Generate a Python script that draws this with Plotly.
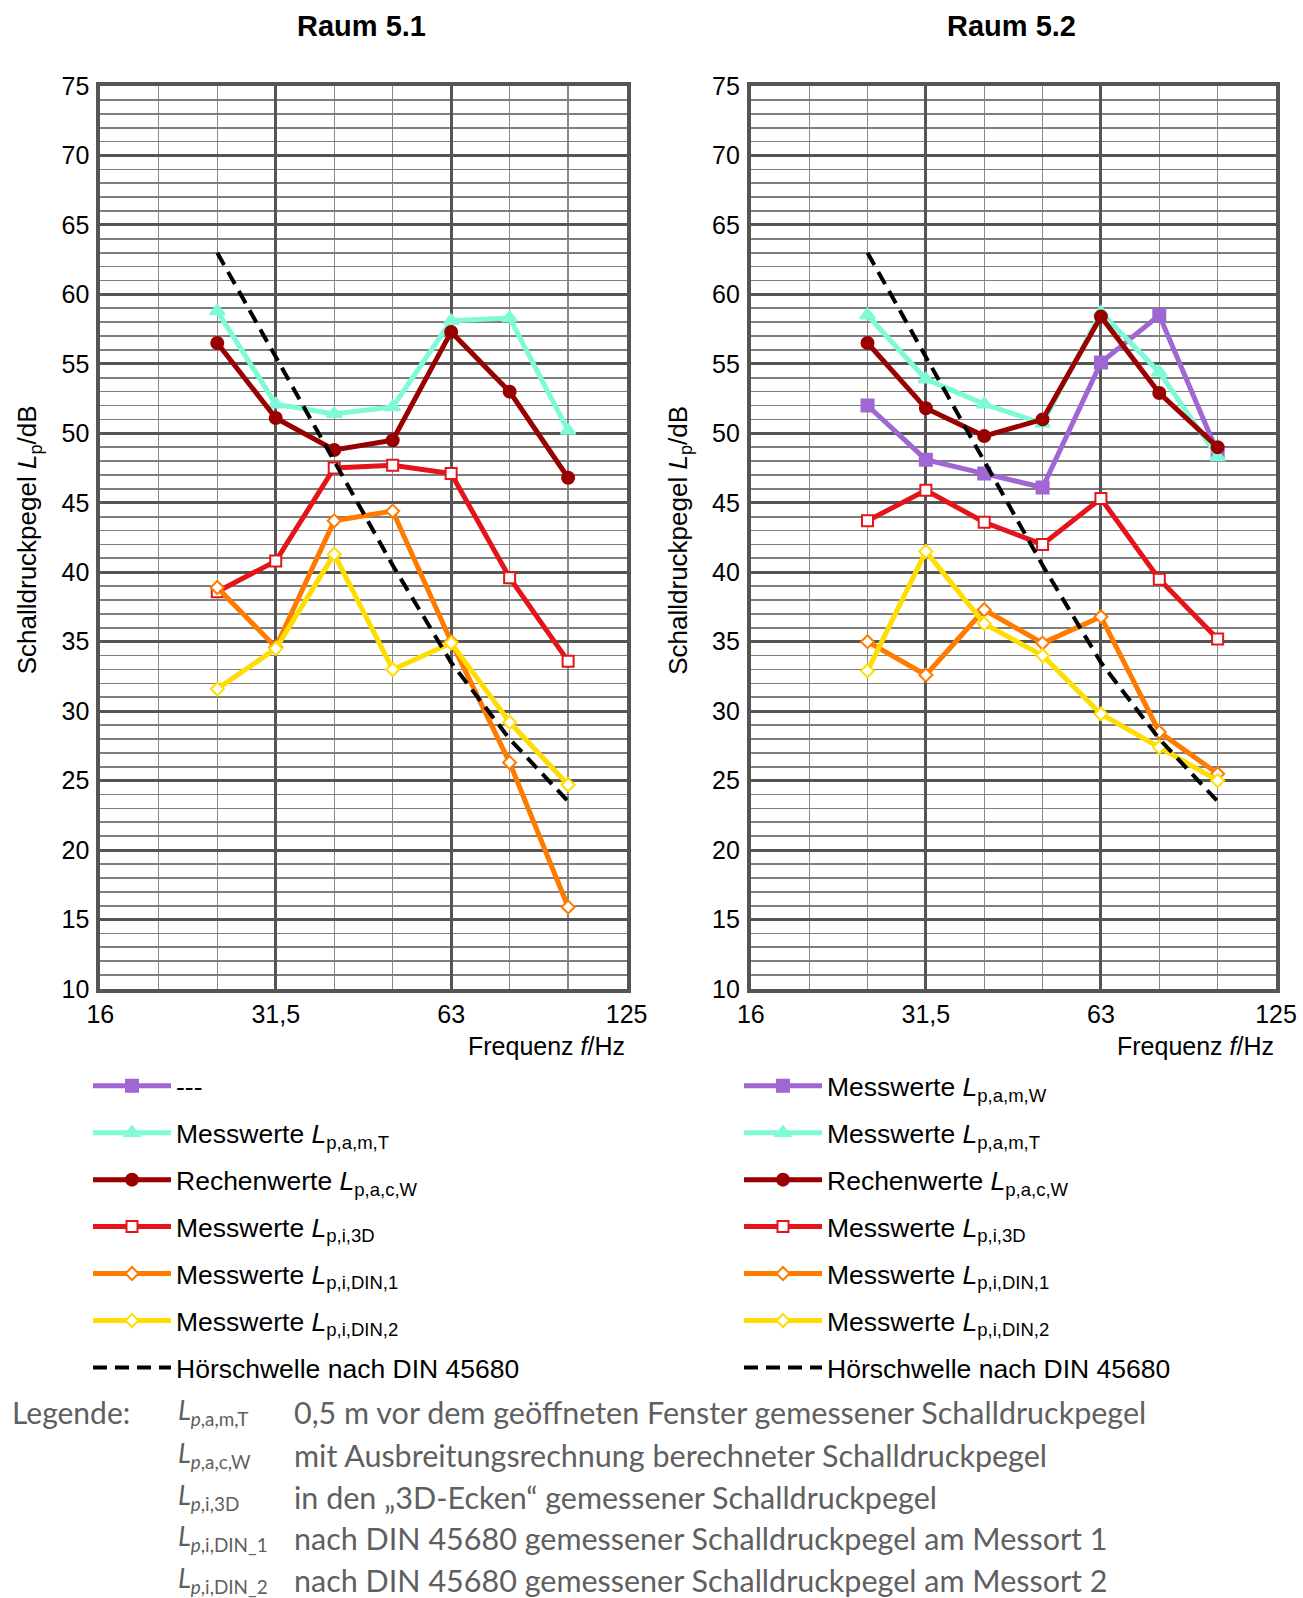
import math
import plotly.graph_objects as go

# ---------------- data ----------------
freqs = [25, 31.5, 40, 50, 63, 80, 100]          # nominal third-octave bands (Hz)
band_no = [14, 15, 16, 17, 18, 19, 20]            # band numbers (10*log10 f)

# Raum 5.1
r1_amT = [58.8, 52.1, 51.4, 51.9, 58.1, 58.3, 50.2]
r1_acW = [56.5, 51.1, 48.8, 49.5, 57.3, 53.0, 46.8]
r1_i3D = [38.6, 40.8, 47.5, 47.7, 47.1, 39.6, 33.6]
r1_din1 = [38.9, 34.6, 43.7, 44.4, 35.0, 26.3, 15.9]
r1_din2 = [31.6, 34.5, 41.3, 33.0, 34.9, 29.2, 24.7]

# Raum 5.2
r2_amW = [52.0, 48.1, 47.1, 46.1, 55.1, 58.5, 48.6]
r2_amT = [58.5, 53.9, 52.1, 50.7, 58.7, 54.4, 48.3]
r2_acW = [56.5, 51.8, 49.8, 51.0, 58.4, 52.9, 49.0]
r2_i3D = [43.7, 45.9, 43.6, 42.0, 45.3, 39.5, 35.2]
r2_din1 = [35.0, 32.6, 37.3, 34.9, 36.8, 28.5, 25.5]
r2_din2 = [32.9, 41.5, 36.3, 34.0, 29.8, 27.4, 25.0]

# Hörschwelle nach DIN 45680
threshold = [63.0, 55.5, 48.0, 40.5, 33.5, 28.0, 23.5]

x_tick_bands = [12, 15, 18, 21]
x_tick_text = ["16", "31,5", "63", "125"]
x_minor_bands = [13, 14, 16, 17, 19, 20]

titles = ["Raum 5.1", "Raum 5.2"]

# ---------------- helpers ----------------
W, H = 1303, 1598
x_pos = [10 ** (b / 10) for b in band_no]   # exact band centre positions on log axis

def px(x):
    return x / W

def py(y):
    return 1 - y / H

FONT = "Liberation Sans, Arial, sans-serif"

C_PURPLE = "#A066D3"
C_TURQ = "#7FFAD6"
C_DRED = "#990000"
C_RED = "#E5141B"
C_ORANGE = "#FF7B00"
C_YELLOW = "#FFDD00"

fig = go.Figure()

def add(xa, ya, y, name, color, symbol, size, fill, legend, lw=5, dash=None, mode="lines+markers", lwm=2):
    fig.add_trace(go.Scatter(
        x=x_pos if y is not None else [None], y=y if y is not None else [None],
        xaxis=xa, yaxis=ya, name=name, mode=mode, legend=legend,
        line=dict(color=color, width=lw, dash=dash),
        marker=dict(symbol=symbol, size=size, color=fill,
                    line=dict(color=color, width=lwm)),
        legendgroup=name + legend, showlegend=True,
    ))

def lbl(prefix, sub):
    return f"{prefix} <i>L</i><sub>{sub}</sub>"

DASH = "14px,8px"

# left plot
add("x", "y", None, "---", C_PURPLE, "square", 12, C_PURPLE, "legend")
add("x", "y", r1_amT, lbl("Messwerte", "p,a,m,T"), C_TURQ, "triangle-up", 13, C_TURQ, "legend")
add("x", "y", r1_acW, lbl("Rechenwerte", "p,a,c,W"), C_DRED, "circle", 12, C_DRED, "legend")
add("x", "y", r1_i3D, lbl("Messwerte", "p,i,3D"), C_RED, "square", 11, "white", "legend")
add("x", "y", r1_din1, lbl("Messwerte", "p,i,DIN,1"), C_ORANGE, "diamond", 10, "white", "legend")
add("x", "y", r1_din2, lbl("Messwerte", "p,i,DIN,2"), C_YELLOW, "diamond", 10, "white", "legend")
add("x", "y", threshold, "Hörschwelle nach DIN 45680", "black", "circle", 1, "black", "legend",
    lw=4, dash=DASH, mode="lines")

# right plot
add("x2", "y2", r2_amW, lbl("Messwerte", "p,a,m,W"), C_PURPLE, "square", 12, C_PURPLE, "legend2")
add("x2", "y2", r2_amT, lbl("Messwerte", "p,a,m,T"), C_TURQ, "triangle-up", 13, C_TURQ, "legend2")
add("x2", "y2", r2_acW, lbl("Rechenwerte", "p,a,c,W"), C_DRED, "circle", 12, C_DRED, "legend2")
add("x2", "y2", r2_i3D, lbl("Messwerte", "p,i,3D"), C_RED, "square", 11, "white", "legend2")
add("x2", "y2", r2_din1, lbl("Messwerte", "p,i,DIN,1"), C_ORANGE, "diamond", 10, "white", "legend2")
add("x2", "y2", r2_din2, lbl("Messwerte", "p,i,DIN,2"), C_YELLOW, "diamond", 10, "white", "legend2")
add("x2", "y2", threshold, "Hörschwelle nach DIN 45680", "black", "circle", 1, "black", "legend2",
    lw=4, dash=DASH, mode="lines")

# ---------------- axes ----------------
GRID_MAJ = "#555555"
GRID_MIN = "#7e7e7e"
GRID_MINX = "#8a8a8a"

plot_top, plot_bot = 86.0, 989.0
left_dom = [px(100.3), px(626.6)]
right_dom = [px(750.8), px(1276.0)]
ydom = [py(plot_bot), py(plot_top)]

xcommon = dict(
    type="log", range=[1.2 - 1e-5, 2.1 + 1e-5], automargin=False,
    tickmode="array", tickvals=[10 ** (b / 10) for b in x_tick_bands], ticktext=x_tick_text,
    showgrid=True, gridcolor=GRID_MAJ, gridwidth=3,
    minor=dict(tickmode="array", tickvals=[10 ** (b / 10) for b in x_minor_bands],
               showgrid=True, gridcolor=GRID_MINX, gridwidth=1.3, ticks=""),
    showline=True, mirror=True, linecolor=GRID_MAJ, linewidth=4,
    ticks="", ticklabelstandoff=0,
    tickfont=dict(family=FONT, size=25, color="black"),
    zeroline=False, fixedrange=True,
)
ycommon = dict(
    range=[10, 75], tickmode="linear", tick0=10, dtick=5, automargin=False,
    showgrid=True, gridcolor=GRID_MAJ, gridwidth=3,
    minor=dict(tickmode="linear", tick0=10, dtick=1, showgrid=True,
               gridcolor=GRID_MIN, gridwidth=1.7, ticks=""),
    showline=True, mirror=True, linecolor=GRID_MAJ, linewidth=4,
    ticks="", ticklabelstandoff=2,
    tickfont=dict(family=FONT, size=25, color="black"),
    zeroline=False, fixedrange=True,
)

legend_common = dict(
    font=dict(family=FONT, size=26.5, color="black"),
    bgcolor="rgba(0,0,0,0)", borderwidth=0,
    xanchor="left", yanchor="top", orientation="v",
    tracegroupgap=9.5, itemwidth=78, traceorder="grouped",
    itemclick=False, itemdoubleclick=False,
)

fig.update_layout(
    width=W, height=H, autosize=False,
    margin=dict(l=0, r=0, t=0, b=0, autoexpand=False),
    paper_bgcolor="white", plot_bgcolor="white",
    xaxis=dict(domain=left_dom, anchor="y", **xcommon),
    yaxis=dict(domain=ydom, anchor="x", **ycommon),
    xaxis2=dict(domain=right_dom, anchor="y2", **xcommon),
    yaxis2=dict(domain=ydom, anchor="x2", **ycommon),
    legend=dict(x=px(88), y=py(1062), **legend_common),
    legend2=dict(x=px(739), y=py(1062), **legend_common),
    showlegend=True,
)

# ---------------- annotations ----------------
ann = []
for dom, t in zip([left_dom, right_dom], titles):
    ann.append(dict(text=f"<b>{t}</b>", x=(dom[0] + dom[1]) / 2 - px(2), y=py(26), xref="paper", yref="paper",
                    showarrow=False, xanchor="center", yanchor="middle",
                    font=dict(family=FONT, size=29, color="black")))
    ann.append(dict(text="Frequenz <i>f</i>/Hz", x=dom[1] - px(0), y=py(1046), xref="paper", yref="paper",
                    showarrow=False, xanchor="right", yanchor="middle",
                    font=dict(family=FONT, size=25, color="black")))
    ann.append(dict(text="Schalldruckpegel <i>L</i><sub>p</sub>/dB", x=dom[0] - px(71), y=py(540),
                    xref="paper", yref="paper", showarrow=False, textangle=-90,
                    xanchor="center", yanchor="middle",
                    font=dict(family=FONT, size=26, color="black")))

LFONT = "Lato, Source Sans Pro, sans-serif"
LCOL = "#5f5f5f"
leg_rows = [
    ("<i>L</i><sub><i>p</i>,a,m,T</sub>", "0,5 m vor dem geöffneten Fenster gemessener Schalldruckpegel"),
    ("<i>L</i><sub><i>p</i>,a,c,W</sub>", "mit Ausbreitungsrechnung berechneter Schalldruckpegel"),
    ("<i>L</i><sub><i>p</i>,i,3D</sub>", "in den „3D-Ecken“ gemessener Schalldruckpegel"),
    ("<i>L</i><sub><i>p</i>,i,DIN_1</sub>", "nach DIN 45680 gemessener Schalldruckpegel am Messort 1"),
    ("<i>L</i><sub><i>p</i>,i,DIN_2</sub>", "nach DIN 45680 gemessener Schalldruckpegel am Messort 2"),
]
row_y = [1412, 1455, 1497, 1538, 1580]
ann.append(dict(text="Legende:", x=px(10), y=py(row_y[0]), xref="paper", yref="paper",
                showarrow=False, xanchor="left", yanchor="middle",
                font=dict(family=LFONT, size=30, color=LCOL)))
for (sym, desc), yy in zip(leg_rows, row_y):
    ann.append(dict(text=sym, x=px(176), y=py(yy - 1), xref="paper", yref="paper",
                    showarrow=False, xanchor="left", yanchor="middle",
                    font=dict(family=LFONT, size=27, color=LCOL)))
    ann.append(dict(text=desc, x=px(292), y=py(yy), xref="paper", yref="paper",
                    showarrow=False, xanchor="left", yanchor="middle",
                    font=dict(family=LFONT, size=30.5, color=LCOL)))

fig.update_layout(annotations=ann)

fig.write_html("out.html", include_plotlyjs=True, full_html=True,
               config={"displayModeBar": False, "staticPlot": True})
